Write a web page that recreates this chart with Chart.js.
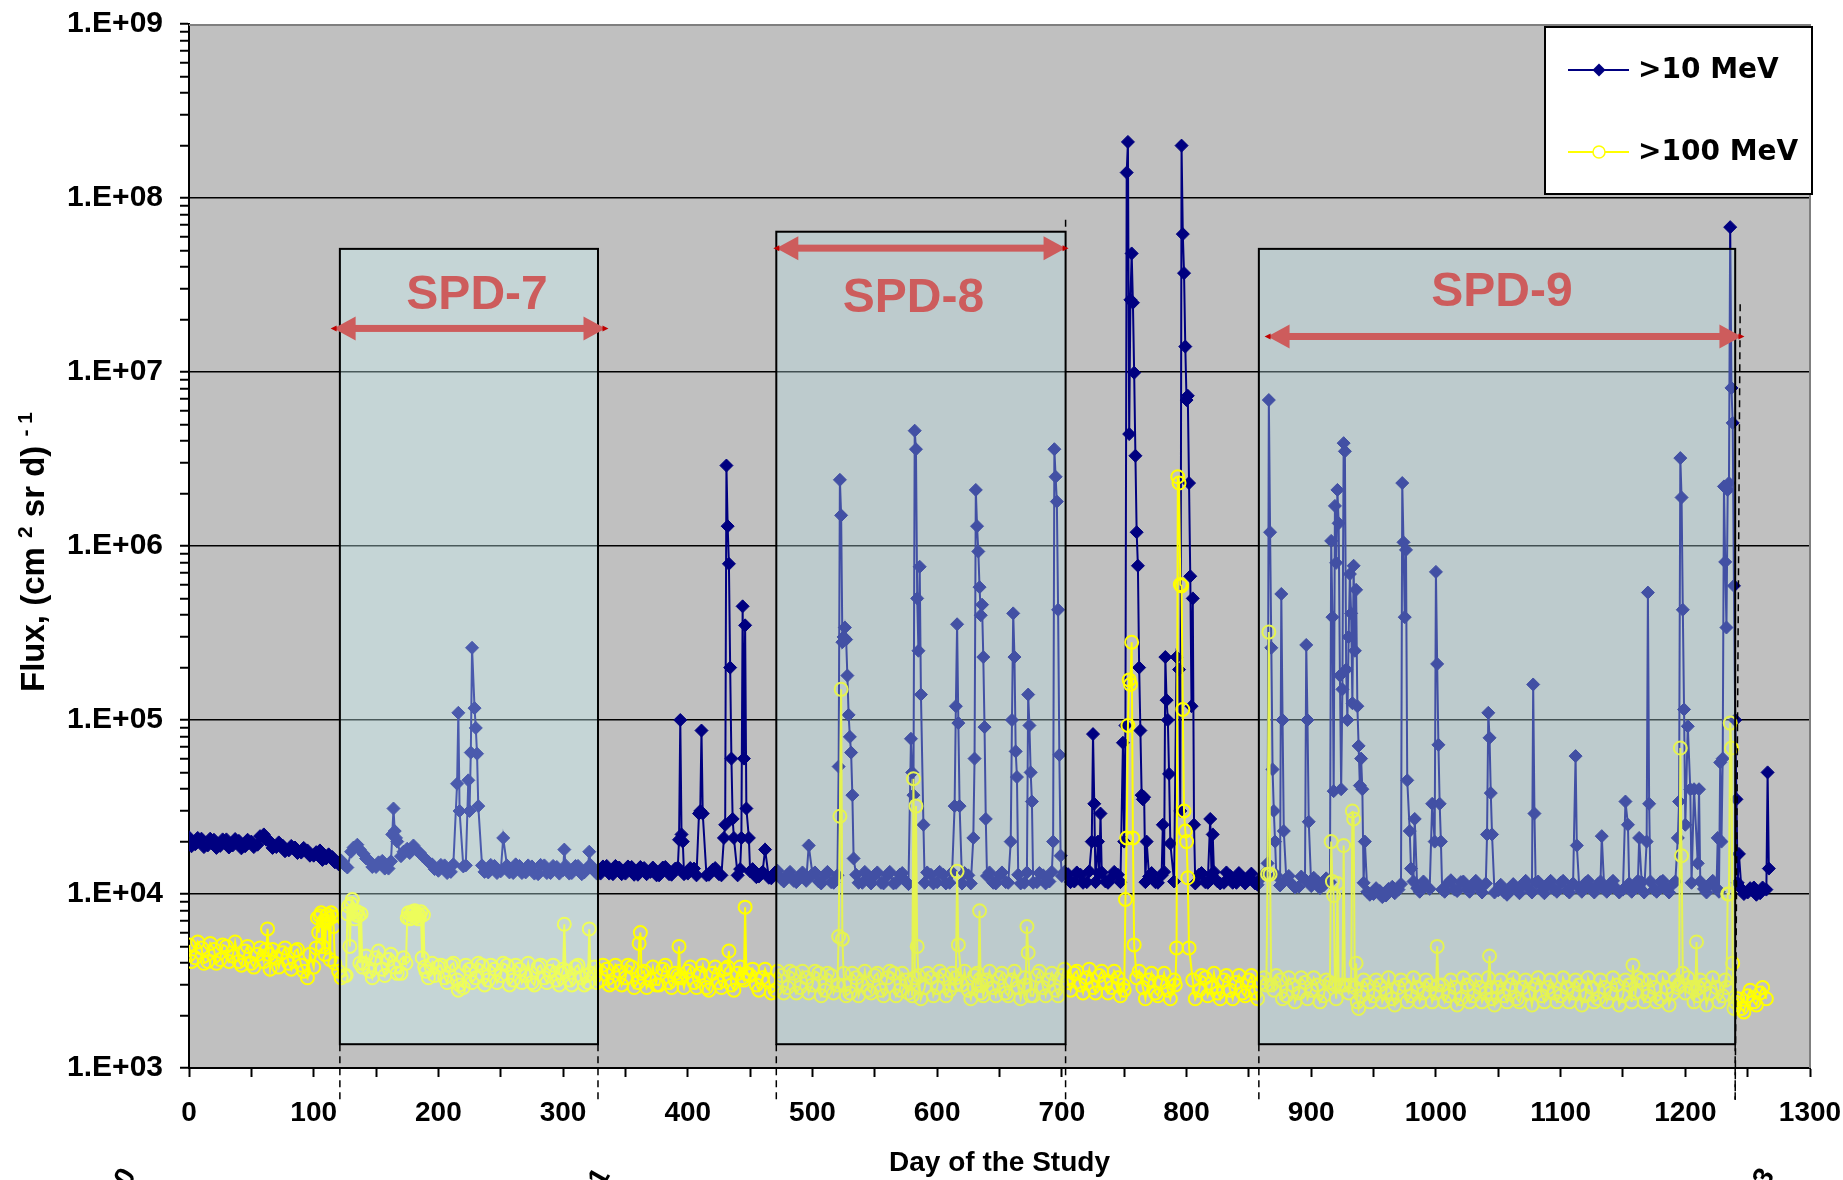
<!DOCTYPE html>
<html><head><meta charset="utf-8">
<script src="https://cdn.jsdelivr.net/npm/chart.js@4/dist/chart.umd.min.js"></script>
<style>html,body{margin:0;padding:0;background:#fff;}canvas{display:block;}</style>
</head><body>
<canvas id="c" width="1843" height="1180"></canvas>
<script>
// ---------------- DATA ----------------
const seriesNames = ['>10 MeV', '>100 MeV'];

// background readings, first set of days (0, 5, 10, ...)
const baseDays = [
0,5,10,15,20,25,30,35,40,45,
50,55,60,65,70,75,80,85,90,95,
100,105,110,115,120,125,130,135,140,145,
150,155,160,165,170,175,180,185,190,195,
200,205,210,215,220,225,230,235,240,245,
250,255,260,265,270,275,280,285,290,295,
300,305,310,315,320,325,330,335,340,345,
350,355,360,365,370,375,380,385,390,395,
400,405,410,415,420,425,430,435,440,445,
450,455,460,465,470,475,480,485,490,495,
500,505,510,515,520,525,530,535,540,545,
550,555,560,565,570,575,580,585,590,595,
600,605,610,615,620,625,630,635,640,645,
650,655,660,665,670,675,680,685,690,695,
700,705,710,715,720,725,730,735,740,745,
750,755,760,765,770,775,780,785,790,795,
800,805,810,815,820,825,830,835,840,845,
850,855,860,865,870,875,880,885,890,895,
900,905,910,915,920,925,930,935,940,945,
950,955,960,965,970,975,980,985,990,995,
1000,1005,1010,1015,1020,1025,1030,1035,1040,1045,
1050,1055,1060,1065,1070,1075,1080,1085,1090,1095,
1100,1105,1110,1115,1120,1125,1130,1135,1140,1145,
1150,1155,1160,1165,1170,1175,1180,1185,1190,1195,
1200,1205,1210,1215,1220,1225,1230,1235,1240,1245,
1250,1255,1260,1265];

// background readings, second set of days (2, 7, 12, ...)
const midDays = [
2,7,12,17,22,27,32,37,42,47,
52,57,62,67,72,77,82,87,92,97,
102,107,112,117,122,127,132,137,142,147,
152,157,162,167,172,177,182,187,192,197,
202,207,212,217,222,227,232,237,242,247,
252,257,262,267,272,277,282,287,292,297,
302,307,312,317,322,327,332,337,342,347,
352,357,362,367,372,377,382,387,392,397,
402,407,412,417,422,427,432,437,442,447,
452,457,462,467,472,477,482,487,492,497,
502,507,512,517,522,527,532,537,542,547,
552,557,562,567,572,577,582,587,592,597,
602,607,612,617,622,627,632,637,642,647,
652,657,662,667,672,677,682,687,692,697,
702,707,712,717,722,727,732,737,742,747,
752,757,762,767,772,777,782,787,792,797,
802,807,812,817,822,827,832,837,842,847,
852,857,862,867,872,877,882,887,892,897,
902,907,912,917,922,927,932,937,942,947,
952,957,962,967,972,977,982,987,992,997,
1002,1007,1012,1017,1022,1027,1032,1037,1042,1047,
1052,1057,1062,1067,1072,1077,1082,1087,1092,1097,
1102,1107,1112,1117,1122,1127,1132,1137,1142,1147,
1152,1157,1162,1167,1172,1177,1182,1187,1192,1197,
1202,1207,1212,1217,1222,1227,1232,1237,1242,1247,
1252,1257,1262];

// >10 MeV flux on baseDays
const base10 = [
21200,19300,20800,19000,20500,18900,20600,19000,20200,18800,
20000,19200,22000,20000,18600,19000,17800,18500,17300,17800,
16600,17800,16000,16300,14800,14600,17500,19200,17000,15400,
14300,15500,14000,23000,16500,18200,19000,17300,15800,14800,
13600,14600,13400,43000,14400,30000,90000,14600,13300,14500,
13500,14600,13200,14500,13300,14400,13000,14600,13200,14300,
13700,13100,14500,13000,14300,13600,13100,14500,13000,14200,
13100,14300,12900,14100,13400,12800,14200,13000,14000,22000,
13100,14000,30000,12800,13800,13000,25000,60000,12800,60000,
13500,12500,13400,12400,13300,12200,12900,11900,12800,11900,
13000,11800,12900,11700,12800,300000,80000,12900,11600,12700,
12900,11600,12800,11500,12900,11800,50000,250000,11600,12900,
11700,12900,11600,120000,11500,12800,60000,400000,12700,11600,
12800,11700,100000,12900,11600,50000,11700,12800,11800,2500000,
12700,13000,11800,12900,11700,83000,13100,11800,12500,12900,
20000,26000000,1200000,35000,12600,11700,12800,100000,11800,30000,
6900000,500000,12900,11700,12800,11800,11600,12700,11600,12400,
12500,11500,12400,15000,30000,11200,12200,11300,11000,12100,
11100,11800,11200,11700,800000,150000,300000,250000,60000,10300,
10000,10400,9800,11000,10600,390000,14000,10800,11800,10700,
710000,10600,11600,10600,11700,10700,11400,10800,11500,22000,
10500,10200,10900,10500,11500,10600,11600,10500,11500,10600,
11600,10500,11500,10800,11600,10600,11400,10700,11500,10700,
10600,11500,10800,11700,540000,10600,11700,10700,11400,34000,
25000,11600,15000,10700,11500,10800,60000,2300000,100000,10700,
10200,10900,10100,10600];

// >10 MeV flux on midDays
const mid10 = [
18800,21000,18600,20800,18400,20600,18500,20700,18300,20500,
18600,21500,20500,18400,19800,17600,18900,17200,18400,16600,
17400,15700,16900,15200,15600,14200,18500,18000,16000,14300,
15200,14000,15400,20000,17500,17200,18000,16600,15300,13900,
14700,13200,14800,13300,14600,13400,14500,13400,14700,13200,
14700,13300,14800,13200,14600,13100,14700,13200,14500,13100,
14600,13200,14500,13300,14700,13100,14400,13100,14500,13000,
14400,12900,14300,13000,14200,12800,14300,12900,14200,13000,
14100,12800,14000,12900,14100,12800,14000,12700,13900,12800,
13900,12600,13800,12300,13600,11800,13400,11700,13300,11600,
13300,11500,13400,11600,13300,11700,13200,11600,13400,11500,
13300,11500,13400,11600,13200,11400,13300,11600,13300,11500,
13400,11500,13300,11600,13200,11500,13400,11600,13300,11500,
13300,11600,13400,11500,13300,11600,13200,11500,13400,11600,
13400,11700,13300,11600,13500,11700,13300,11600,13400,11700,
13400,11600,13300,11700,13200,11600,13400,11700,13300,11600,
13300,11500,13200,11600,13400,11500,13300,11600,13200,11500,
13100,11300,13000,11200,12800,11000,12700,10900,12600,11000,
12400,10800,12300,10900,12200,10700,12100,10600,11600,9900,
10800,9600,10700,10100,11400,10200,11800,10300,11200,10100,
11900,10300,12000,10400,11800,10300,11900,10200,11800,10200,
11300,9900,11400,10100,11900,10200,11800,10100,11900,10300,
11900,10200,11800,10300,11900,10200,11800,10300,11900,10200,
11800,10300,11900,10200,11800,10300,11900,10200,11800,10300,
11900,10300,11800,10200,11900,10300,11700,10200,11600,10000,
10800,9900,10900];

// >100 MeV flux on baseDays
const base100 = [
5100,4300,4900,4100,4800,4200,5000,4400,4100,4700,
4000,4500,4100,3700,4300,4600,4000,4700,3900,3300,
3800,7500,7000,7400,3600,3400,8800,7900,4000,3600,
4300,3700,4200,3800,3500,7300,7700,7500,3600,4000,
3800,3300,3900,3200,2900,3700,3300,3900,3200,3700,
3400,3900,3200,3700,3400,3100,3800,3300,3600,3200,
3700,3200,3800,3300,3100,3800,3200,3700,3100,3600,
3300,3800,3100,3600,3200,3000,3700,3100,3500,3300,
3600,3100,3500,2900,3500,3100,3700,3000,3500,3200,
3400,3000,3300,3200,2800,3400,2900,3500,2900,3300,
3000,3500,2800,3400,3000,3500,2700,3300,3000,2800,
3400,2800,3300,3500,2800,3200,2600,3400,2900,3300,
2900,3400,2800,3300,3000,2800,3400,2700,3200,2900,
3300,2700,3200,2900,3300,2600,3400,2900,3200,2800,
3400,3100,3500,3000,3300,2900,3400,3100,2900,3300,
2800,160000,3300,2900,3200,2700,3100,2800,3200,600000,
20000,3200,2800,3300,2900,2700,3200,2800,3100,2700,
3200,2700,3100,13000,2800,3200,2600,3000,2700,3100,
2800,3000,2600,3100,2500,3000,2700,2900,2600,3000,
2600,3000,2700,2500,2900,3000,2600,2900,2700,3000,
2700,3000,2600,2900,2500,3000,2600,2900,2700,2500,
2900,2600,3000,2500,2900,2700,3000,2600,2900,2700,
2600,2900,2700,3000,2600,2900,2500,2900,2700,3000,
2600,3000,2700,3200,2600,2900,2500,2900,2700,3000,
2700,2900,2600,3000,2700,2900,2600,10000,2400,2200,
2600,2400,2700,2500];

// >100 MeV flux on midDays
const mid100 = [
4100,5300,4000,5200,4000,5100,4100,5300,3900,5000,
3800,4900,4800,4800,3800,4900,3700,4800,3600,4500,
4900,7300,7200,7600,3300,4300,9300,4000,4400,3300,
4700,3400,4500,3500,4300,7800,7600,7900,3300,3400,
3900,3100,4000,3000,3900,3100,4000,3000,3900,3100,
4000,3000,3900,3100,4000,3000,3900,3100,3900,3000,
4000,3000,3900,3000,4000,3100,3900,3000,3900,3000,
3900,2900,4000,2900,3800,3000,3900,2900,3800,2900,
3800,2900,3900,2800,3800,2900,3800,2800,3800,2900,
3700,2800,3700,2700,3600,2700,3600,2700,3600,2700,
3600,2600,3500,2700,3600,2600,3500,2600,3600,2700,
3500,2600,3600,2600,3500,2700,3600,2500,3500,2600,
3600,2600,3500,2600,3600,2500,3500,2600,3600,2600,
3500,2600,3600,2500,3500,2600,3600,2600,3500,2600,
3700,2800,3600,2700,3700,2700,3600,2700,3600,2600,
3500,2600,3600,2500,3500,2600,3500,2500,3400,2600,
3500,2500,3400,2600,3500,2500,3400,2500,3400,2600,
3400,2500,3300,2500,3400,2500,3300,2400,3300,2500,
3300,2400,3200,2500,3300,2400,3300,2400,3200,2400,
3200,2400,3300,2300,3200,2400,3300,2400,3200,2400,
3300,2400,3200,2300,3300,2400,3200,2400,3300,2300,
3200,2400,3300,2400,3200,2300,3300,2400,3200,2400,
3300,2400,3200,2300,3300,2400,3200,2400,3300,2300,
3200,2400,3300,2400,3200,2400,3300,2300,3200,2400,
3300,2400,3200,2300,3300,2400,3200,2300,2500,2100,
2800,2300,2900];

// >10 MeV readings on event days: [day, flux]
const events10 = [
[163,22000],[164,31000],[166,21000],
[216,110000],[217,30000],
[224,45000],[226,65000],[227,260000],[229,117000],[231,64000],[232,32000],
[252,21000],[301,18000],[321,17500],
[393,20500],[394,100000],[396,20000],
[409,29000],[411,87000],[412,29000],
[429,21000],[431,2900000],[432,1300000],[433,790000],[434,200000],[436,27000],[437,21000],
[443,21000],[444,450000],[446,350000],[447,31000],[449,21000],
[462,18000],[497,19000],
[521,54000],[522,2400000],[523,1500000],[524,280000],[526,340000],[527,290000],[528,180000],[529,107000],[531,65000],[532,37000],[533,16000],
[579,78000],[581,37000],[582,4600000],[583,3600000],[584,500000],[586,760000],[587,140000],[589,25000],
[614,32000],[616,355000],[617,96000],[618,32000],
[629,21000],[631,2100000],[632,1300000],[633,930000],[634,580000],[636,460000],[637,230000],[638,91000],[639,27000],
[659,20000],[661,410000],[662,230000],[663,66000],[664,47000],
[673,140000],[674,93000],[676,34000],
[693,20000],[694,3600000],[696,1800000],[697,430000],[698,63000],[699,16600],
[724,20000],[726,33000],[729,20000],[731,29000],
[749,74000],[751,93000],[752,140000000],[753,210000000],[754,4400000],[756,48000000],[757,25000000],[758,9900000],[759,3300000],[761,770000],[762,200000],[763,87000],[764,37000],[766,36000],[768,20000],
[781,25000],[783,230000],[784,130000],[786,49000],[787,19500],
[792,230000],[794,195000],[796,200000000],[797,62000000],[798,37000000],[799,14000000],[801,7300000],[802,2300000],[803,670000],[804,120000],[806,25000],
[819,27000],[821,22000],
[866,6900000],[867,1200000],[868,260000],[869,52000],[871,20000],
[876,530000],[877,100000],[878,23000],
[896,270000],[897,100000],[898,26000],
[916,1070000],[917,390000],[918,39000],[919,1700000],[921,2100000],[922,1350000],[923,180000],[924,40000],[926,3900000],[927,3500000],[928,195000],[929,100000],[931,690000],[932,410000],[933,125000],[934,770000],[936,560000],[937,120000],[938,71000],[939,42000],[941,40000],[943,20000],
[973,2300000],[974,1050000],[976,950000],[977,45000],[979,23000],[983,27000],
[997,33000],[999,20000],[1001,210000],[1002,72000],[1003,33000],[1004,20000],
[1041,22000],[1042,110000],[1043,79000],[1044,38000],
[1078,160000],[1079,29000],
[1112,62000],[1113,19000],[1133,21500],[1152,34000],[1154,25000],[1163,21000],
[1169,20000],[1171,33000],
[1194,21000],[1196,3200000],[1197,1900000],[1198,430000],[1199,115000],[1202,92000],[1204,40000],[1207,40000],[1211,40000],
[1226,21000],[1228,57000],[1229,20000],[1231,2200000],[1232,810000],[1233,340000],[1234,2100000],[1236,68000000],[1237,8100000],[1238,5100000],[1239,590000],[1241,35000],[1243,17000],
[1266,50000],[1267,14000]];

// >100 MeV readings on event days: [day, flux]
const events100 = [
[63,6300],[64,4500],
[103,7300],[104,6000],[106,7800],[107,5000],[108,7000],[109,4500],[111,7600],[112,7200],[113,4200],[114,7800],[116,6500],[117,4000],
[126,3400],[127,7700],[128,8500],[129,5000],[131,9300],[132,8000],[133,7200],[134,7600],[136,7500],[137,4000],[138,7700],[139,3800],
[174,4000],[176,7800],[177,7200],[178,7600],[179,7900],[181,8000],[182,7400],[183,7700],[184,7200],[186,7900],[187,4300],[188,7600],[189,3800],
[216,2800],
[299,3500],[301,6700],[302,3600],[319,3400],[321,6300],[322,3500],
[361,5200],[362,6000],[363,3500],[392,3400],[393,5000],[394,3300],[433,4700],[444,3300],[446,8400],[447,3500],
[521,5700],[522,28000],[523,150000],[524,5500],[526,3000],
[579,3100],[581,46000],[582,3300],[583,32000],[584,5000],
[614,3000],[616,13500],[617,5100],
[633,3000],[634,8000],[636,3000],
[671,3000],[672,6500],[673,4600],
[749,3000],[751,9300],[752,21000],[753,93000],[754,170000],[756,280000],[757,21000],[758,5100],
[791,3000],[792,4900],[793,2500000],[794,2300000],[796,590000],[797,115000],[798,30000],[799,23000],[801,12400],[802,4900],
[864,3000],[866,320000],[867,13000],[868,3000],
[916,20000],[917,11800],[918,9800],[919,3000],[921,11500],[922,3000],[926,19000],[927,3000],[932,3000],[933,30000],[934,27000],[936,4000],[938,2200],
[1001,5000],[1002,3000],[1043,4400],[1044,2900],[1158,3900],
[1194,2900],[1196,69000],[1197,16600],[1198,3500],[1208,2800],[1209,5300],[1211,2900],
[1233,2900],[1234,10000],[1236,96000],[1237,69000],[1238,4000],[1239,2200]];

// axis ticks
const xTickLabels = ['0','100','200','300','400','500','600','700','800','900','1000','1100','1200','1300'];
const yDecades = [1e3, 1e4, 1e5, 1e6, 1e7, 1e8, 1e9];
const yTickLabels = ['1.E+03','1.E+04','1.E+05','1.E+06','1.E+07','1.E+08','1.E+09'];

// SPD periods (days) and the flux span of their boxes
const spdNames = ['SPD-7', 'SPD-8', 'SPD-9'];
const spdStart = [121, 471, 858];
const spdEnd = [328, 703, 1240];
const spdTop = [5.1e7, 6.4e7, 5.1e7];
const spdBottom = [1.37e3, 1.37e3, 1.37e3];

// calendar markers below the axis (mostly cut off by the picture edge)
const dateMarks = ['2010', '2011', '2013'];
const dateMarkDays = [-42, 338, 1272];

// ---------------- ANNOTATION LAYOUT (data units) ----------------
const arrowFrom = [116, 471, 865];
const arrowTo = [334, 703, 1245];
const arrowFlux = [1.78e7, 5.15e7, 1.6e7];
const labelDay = [231, 581, 1053];
const labelFlux = [2.75e7, 2.62e7, 2.87e7];
const boxFill = ['rgba(206,250,252,0.36)', 'rgba(183,222,228,0.36)', 'rgba(183,222,228,0.36)'];

if (base10.length !== baseDays.length || base100.length !== baseDays.length ||
    mid10.length !== midDays.length || mid100.length !== midDays.length) {
  throw new Error('length mismatch ' + [baseDays.length, base10.length, base100.length, midDays.length, mid10.length, mid100.length].join(' '));
}

function buildSeries(base, mid, events) {
  const m = new Map();
  baseDays.forEach((d, i) => m.set(d, base[i]));
  midDays.forEach((d, i) => m.set(d, mid[i]));
  events.forEach(e => m.set(e[0], e[1]));
  return [...m.entries()].sort((a, b) => a[0] - b[0]).map(([x, y]) => ({x, y}));
}
const pts10 = buildSeries(base10, mid10, events10);
const pts100 = buildSeries(base100, mid100, events100);

const NAVY = '#000080', YEL = '#FFFF00', RED = '#CD5C5C';
const FONT = "'Liberation Sans', Arial, sans-serif";

function drawArrow(ctx, xa, xb, y) {
  const hl = 22, hw = 12, lw = 7;
  ctx.fillStyle = RED;
  ctx.fillRect(xa + hl - 1, y - lw / 2, (xb - xa) - 2 * hl + 2, lw);
  ctx.beginPath(); ctx.moveTo(xa, y); ctx.lineTo(xa + hl, y - hw); ctx.lineTo(xa + hl, y + hw); ctx.closePath(); ctx.fill();
  ctx.beginPath(); ctx.moveTo(xb, y); ctx.lineTo(xb - hl, y - hw); ctx.lineTo(xb - hl, y + hw); ctx.closePath(); ctx.fill();
  ctx.fillStyle = '#C00000';
  ctx.beginPath(); ctx.moveTo(xa - 3, y); ctx.lineTo(xa + 3, y - 3); ctx.lineTo(xa + 3, y + 3); ctx.closePath(); ctx.fill();
  ctx.beginPath(); ctx.moveTo(xb + 3, y); ctx.lineTo(xb - 3, y - 3); ctx.lineTo(xb - 3, y + 3); ctx.closePath(); ctx.fill();
}

const decor = {
  id: 'decor',
  beforeDraw(chart) {
    const {ctx, chartArea: a} = chart;
    ctx.save();
    ctx.fillStyle = '#C0C0C0';
    ctx.fillRect(a.left, a.top, a.right - a.left, a.bottom - a.top);
    ctx.restore();
  },
  afterDatasetsDraw(chart) {
    const {ctx, chartArea: a, scales: {x, y}} = chart;
    ctx.save();
    ctx.strokeStyle = '#7F7F7F'; ctx.lineWidth = 2;
    ctx.beginPath(); ctx.moveTo(a.left, a.top + 1); ctx.lineTo(a.right, a.top + 1); ctx.lineTo(a.right, a.bottom); ctx.stroke();
    spdNames.forEach((n, i) => {
      const x0 = x.getPixelForValue(spdStart[i]), x1 = x.getPixelForValue(spdEnd[i]);
      const y0 = y.getPixelForValue(spdTop[i]), y1 = y.getPixelForValue(spdBottom[i]);
      ctx.fillStyle = boxFill[i];
      ctx.fillRect(x0, y0, x1 - x0, y1 - y0);
      ctx.strokeStyle = '#000'; ctx.lineWidth = 2; ctx.setLineDash([]);
      ctx.strokeRect(x0, y0, x1 - x0, y1 - y0);
      ctx.lineWidth = 1.5; ctx.setLineDash([7, 5]);
      ctx.beginPath();
      ctx.moveTo(x0, y1); ctx.lineTo(x0, a.bottom + 32);
      ctx.moveTo(x1, y1); ctx.lineTo(x1, a.bottom + 32);
      ctx.stroke();
    });
    ctx.beginPath();
    const xe = x.getPixelForValue(1244);
    ctx.moveTo(xe, y.getPixelForValue(2.45e7)); ctx.lineTo(xe - 5, a.bottom + 32);
    const x8 = x.getPixelForValue(spdEnd[1]);
    ctx.moveTo(x8, y.getPixelForValue(7.5e7)); ctx.lineTo(x8, y.getPixelForValue(spdTop[1]));
    ctx.stroke();
    ctx.setLineDash([]);
    spdNames.forEach((n, i) => {
      drawArrow(ctx, x.getPixelForValue(arrowFrom[i]), x.getPixelForValue(arrowTo[i]), y.getPixelForValue(arrowFlux[i]));
      ctx.fillStyle = RED;
      ctx.font = 'bold 48px ' + FONT;
      ctx.textAlign = 'center'; ctx.textBaseline = 'middle';
      ctx.fillText(n, x.getPixelForValue(labelDay[i]), y.getPixelForValue(labelFlux[i]));
    });
    ctx.restore();
  },
  afterDraw(chart) {
    const {ctx, chartArea: a, scales: {x}} = chart;
    ctx.save();
    // legend
    const lx = a.right - 265, ly = a.top + 3, lw = 267, lh = 167;
    ctx.fillStyle = '#fff'; ctx.fillRect(lx, ly, lw, lh);
    ctx.strokeStyle = '#000'; ctx.lineWidth = 2; ctx.strokeRect(lx, ly, lw, lh);
    const rows = [ly + 43, ly + 125];
    const ds = chart.data.datasets;
    rows.forEach((ry, i) => {
      ctx.strokeStyle = i === 0 ? NAVY : YEL; ctx.lineWidth = 2;
      ctx.beginPath(); ctx.moveTo(lx + 23, ry); ctx.lineTo(lx + 84, ry); ctx.stroke();
      const cx = lx + 54;
      if (i === 0) {
        ctx.fillStyle = NAVY;
        ctx.beginPath(); ctx.moveTo(cx - 6.5, ry); ctx.lineTo(cx, ry - 6.5); ctx.lineTo(cx + 6.5, ry); ctx.lineTo(cx, ry + 6.5); ctx.closePath(); ctx.fill();
      } else {
        ctx.fillStyle = '#fff'; ctx.lineWidth = 1.5;
        ctx.beginPath(); ctx.arc(cx, ry, 6, 0, Math.PI * 2); ctx.fill(); ctx.stroke();
      }
      ctx.fillStyle = '#000';
      ctx.font = "bold 28px 'DejaVu Sans', sans-serif";
      ctx.textAlign = 'left'; ctx.textBaseline = 'middle';
      ctx.fillText(ds[i].label, lx + 93, ry + 1);
    });
    // y-axis title with superscripts
    ctx.translate(33, 552);
    ctx.rotate(-Math.PI / 2);
    const parts = [['Flux, (cm ', false], ['2', true], [' sr d) ', false], ['- 1', true]];
    const big = 'bold 33px ' + FONT, sup = 'bold 21px ' + FONT;
    let total = 0;
    parts.forEach(p => { ctx.font = p[1] ? sup : big; total += ctx.measureText(p[0]).width; });
    let cx = -total / 2;
    ctx.fillStyle = '#000'; ctx.textAlign = 'left'; ctx.textBaseline = 'alphabetic';
    parts.forEach(p => {
      ctx.font = p[1] ? sup : big;
      ctx.fillText(p[0], cx, p[1] ? -1 : 11);
      cx += ctx.measureText(p[0]).width;
    });
    ctx.setTransform(1, 0, 0, 1, 0, 0);
    // rotated calendar marks, clipped by the picture edge
    dateMarks.forEach((t, i) => {
      ctx.save();
      ctx.translate(x.getPixelForValue(dateMarkDays[i]), 1175);
      ctx.rotate(-Math.PI / 3);
      ctx.font = 'bold 28px ' + FONT; ctx.fillStyle = '#000';
      ctx.textAlign = 'right'; ctx.textBaseline = 'alphabetic';
      ctx.fillText(t, 0, 0);
      ctx.restore();
    });
    ctx.restore();
  }
};

const isDecade = v => Math.abs(Math.log10(v) - Math.round(Math.log10(v))) < 1e-9;

new Chart(document.getElementById('c'), {
  type: 'line',
  data: {
    datasets: [
      { label: seriesNames[0], data: pts10, order: 1,
        borderColor: NAVY, backgroundColor: NAVY, borderWidth: 2,
        pointStyle: 'rectRot', pointRadius: 6.5, pointBorderWidth: 1,
        pointBackgroundColor: NAVY, pointBorderColor: NAVY, tension: 0 },
      { label: seriesNames[1], data: pts100, order: 0,
        borderColor: YEL, backgroundColor: YEL, borderWidth: 2,
        pointStyle: 'circle', pointRadius: 6.5, pointBorderWidth: 2,
        pointBackgroundColor: 'rgba(0,0,0,0)', pointBorderColor: YEL, tension: 0 }
    ]
  },
  options: {
    responsive: false, animation: false, devicePixelRatio: 1,
    layout: { padding: { top: 24, right: 33, bottom: 0, left: 0 } },
    plugins: { legend: { display: false }, tooltip: { enabled: false } },
    scales: {
      x: {
        type: 'linear', min: 0, max: 1300,
        ticks: {
          stepSize: 50, autoSkip: false, maxRotation: 0, minRotation: 0, padding: 19, color: '#000',
          font: { family: FONT, weight: 'bold', size: 28 },
          callback: v => (v % 100 === 0 ? xTickLabels[v / 100] : '')
        },
        grid: { drawOnChartArea: false, drawTicks: true, tickLength: 9, tickColor: '#000', tickWidth: 2 },
        border: { display: true, color: '#000', width: 2 },
        title: { display: true, text: 'Day of the Study', color: '#000',
                 font: { family: FONT, weight: 'bold', size: 28 }, padding: { top: 0, bottom: 0 } },
        afterFit: s => { s.height = 112; s.paddingLeft = 0; s.paddingRight = 0; }
      },
      y: {
        type: 'logarithmic', min: 1e3, max: 1e9,
        afterBuildTicks: s => {
          const t = [];
          yDecades.forEach((d, i) => {
            t.push({ value: d, major: true });
            if (i < yDecades.length - 1) for (let m = 2; m <= 9; m++) t.push({ value: m * d, major: false });
          });
          s.ticks = t;
        },
        ticks: {
          autoSkip: false, padding: 17, color: '#000',
          font: { family: FONT, weight: 'bold', size: 30 },
          callback: v => { const k = yDecades.findIndex(d => Math.abs(d - v) / d < 1e-6); return k >= 0 ? yTickLabels[k] : ''; }
        },
        grid: {
          color: c => (c.tick && isDecade(c.tick.value) && c.tick.value > 1e3 && c.tick.value < 1e9 ? '#000' : 'rgba(0,0,0,0)'),
          lineWidth: 1.5, drawTicks: true, tickLength: 9, tickColor: '#000', tickWidth: 2
        },
        border: { display: true, color: '#000', width: 2 },
        afterFit: s => { s.width = 189; s.paddingTop = 0; s.paddingBottom = 0; }
      }
    }
  },
  plugins: [decor]
});
</script>
</body></html>
